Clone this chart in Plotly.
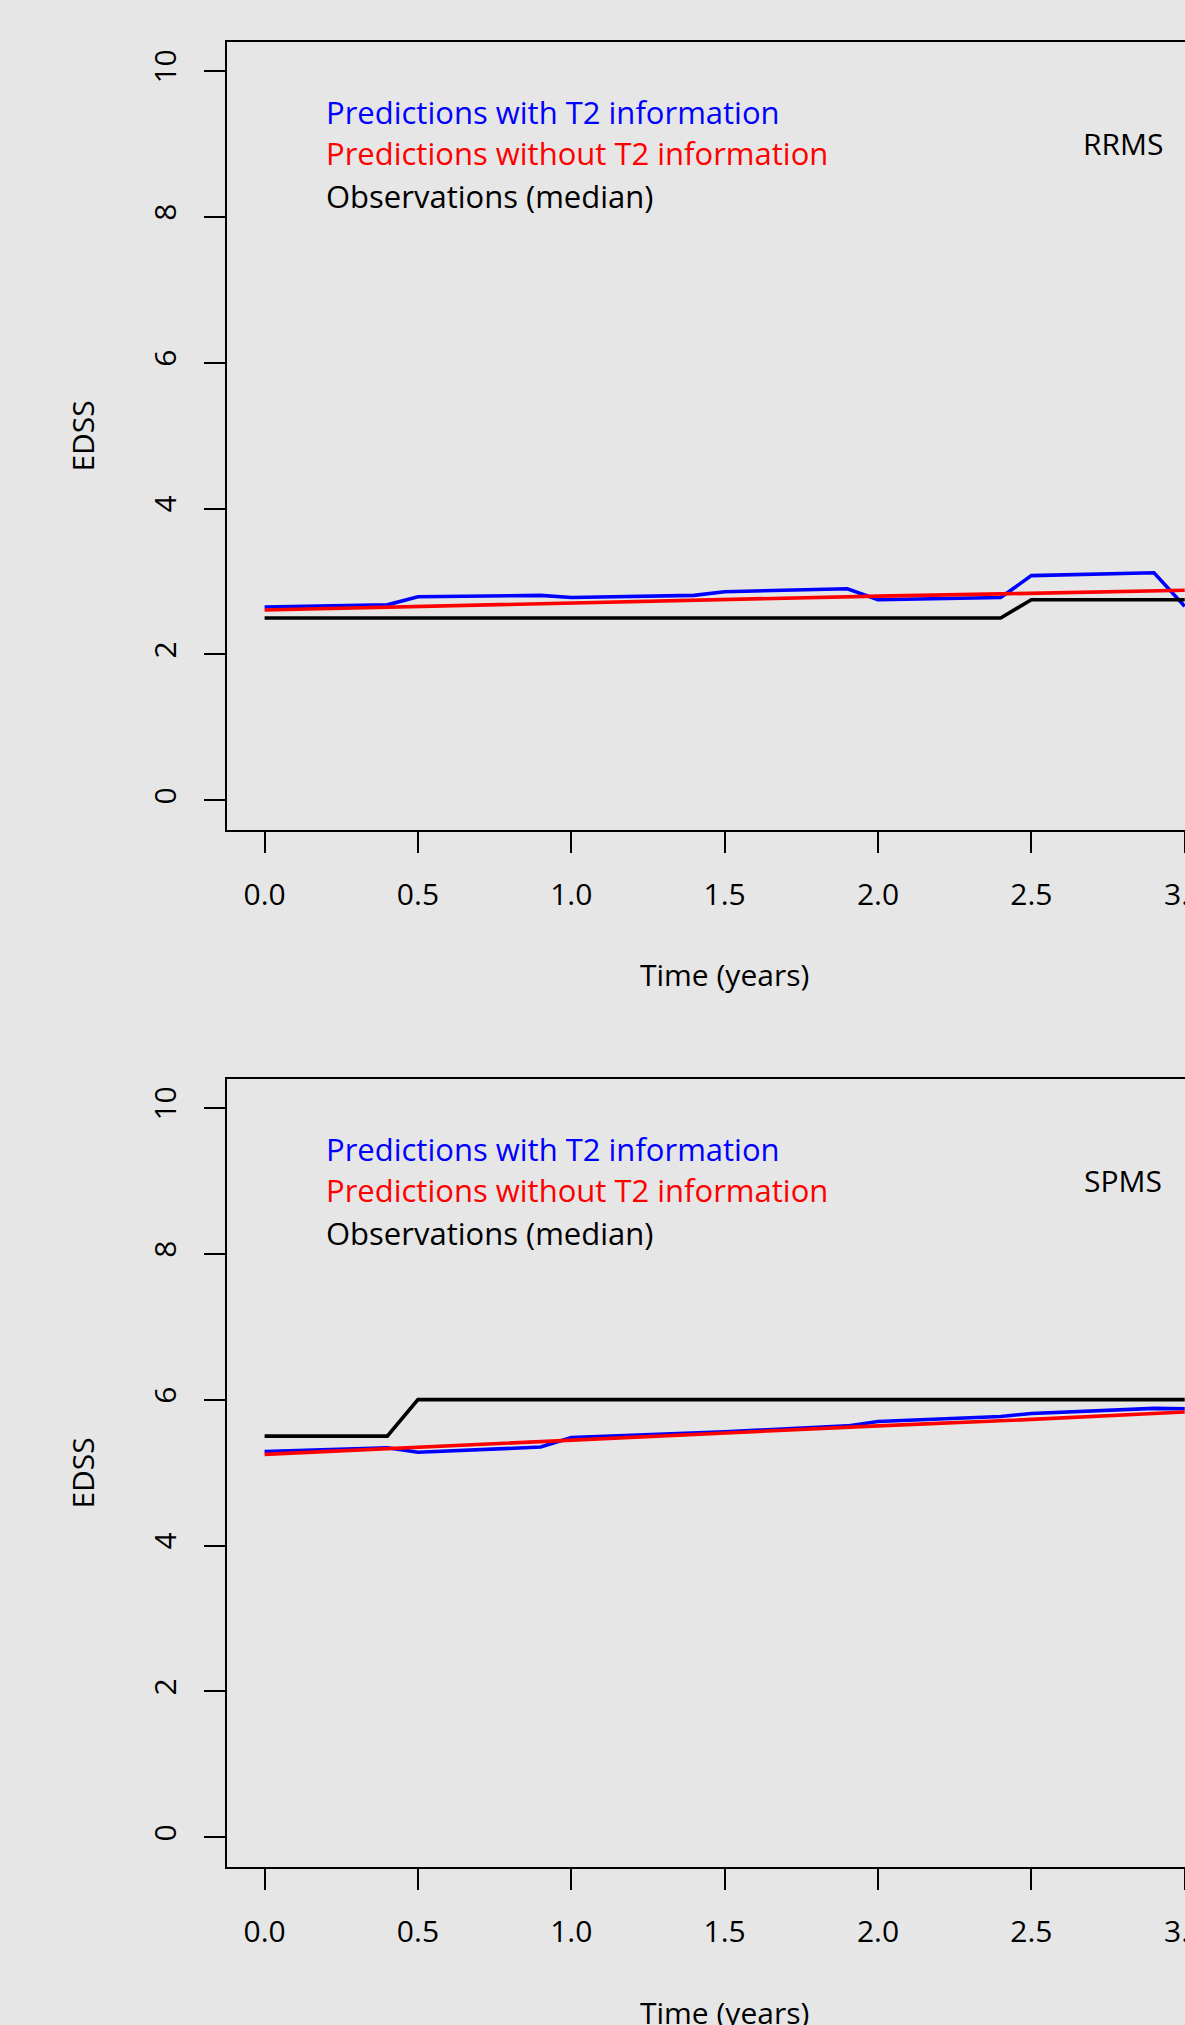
import plotly.graph_objects as go

# ---------------- data ----------------
time_years = [0.0, 0.4, 0.5, 0.9, 1.0, 1.4, 1.5, 1.9, 2.0, 2.4, 2.5, 2.9, 3.0]

rrms_with_t2 = [2.65, 2.68, 2.79, 2.81, 2.78, 2.81, 2.86, 2.90, 2.75, 2.78, 3.08, 3.12, 2.66]
rrms_without_t2 = [2.61, 2.65, 2.66, 2.69, 2.70, 2.74, 2.75, 2.79, 2.80, 2.83, 2.84, 2.87, 2.88]
rrms_observed = [2.5, 2.5, 2.5, 2.5, 2.5, 2.5, 2.5, 2.5, 2.5, 2.5, 2.75, 2.75, 2.75]

spms_with_t2 = [5.29, 5.34, 5.28, 5.35, 5.48, 5.54, 5.56, 5.64, 5.70, 5.77, 5.81, 5.88, 5.875]
spms_without_t2 = [5.25, 5.33, 5.35, 5.42, 5.44, 5.52, 5.54, 5.62, 5.64, 5.71, 5.73, 5.81, 5.83]
spms_observed = [5.5, 5.5, 6.0, 6.0, 6.0, 6.0, 6.0, 6.0, 6.0, 6.0, 6.0, 6.0, 6.0]

x_ticks = [0.0, 0.5, 1.0, 1.5, 2.0, 2.5, 3.0]
y_ticks = [0, 2, 4, 6, 8, 10]

legend_labels = ["Predictions with T2 information",
                 "Predictions without T2 information",
                 "Observations (median)"]
panel_labels = ["RRMS", "SPMS"]
x_title = "Time (years)"
y_title = "EDSS"

# ---------------- styling ----------------
W, H = 1185, 2025
BG = "#E6E6E6"
FONT = "Open Sans"
FS = 30
colors = ["#0000FF", "#FF0000", "#000000"]

fig = go.Figure()

panels = [
    dict(xa="x", ya="y", series=[rrms_with_t2, rrms_without_t2, rrms_observed],
         top=41.7, bottom=829.5, label=panel_labels[0]),
    dict(xa="x2", ya="y2", series=[spms_with_t2, spms_without_t2, spms_observed],
         top=1078.7, bottom=1866.5, label=panel_labels[1]),
]

annotations = []
for i, p in enumerate(panels):
    for s, c in zip(p["series"], colors):
        fig.add_trace(go.Scatter(x=time_years, y=s, mode="lines",
                                 line=dict(color=c, width=3.6),
                                 xaxis=p["xa"], yaxis=p["ya"],
                                 showlegend=False, hoverinfo="skip"))
    sfx = "" if i == 0 else "2"
    dom = [1 - p["bottom"] / H, 1 - p["top"] / H]
    axis_common = dict(showline=True, linecolor="black", linewidth=2,
                       ticks="outside", ticklen=21, tickwidth=2, tickcolor="black",
                       tickfont=dict(family=FONT, size=FS, color="black"),
                       showgrid=False, zeroline=False, automargin=False)
    fig.update_layout(**{
        "xaxis" + sfx: dict(domain=[227 / W, 1.0], range=[-0.1226, 3.001],
                            tickvals=x_ticks, tickformat=".1f", mirror=True,
                            anchor="y" + sfx, ticklabelstandoff=16, **axis_common),
        "yaxis" + sfx: dict(domain=dom, range=[-0.4, 10.4], tickvals=y_ticks,
                            tickangle=-90, anchor="x" + sfx, mirror=False,
                            ticklabelstandoff=16, **axis_common),
    })
    # the right-most tick label, cut by the page edge as in the reference
    annotations.append(dict(x=3.0, y=-0.4, xref=p["xa"], yref=p["ya"], text="3.0",
                            showarrow=False, xanchor="center", yanchor="top",
                            yshift=-41, font=dict(family=FONT, size=FS, color="black")))
    # legend text (no symbols, as in the reference)
    for lab, c, yy in zip(legend_labels, colors, [9.43, 8.87, 8.29]):
        annotations.append(dict(x=0.195, y=yy, xref=p["xa"], yref=p["ya"], text=lab,
                                showarrow=False, xanchor="left", yanchor="middle",
                                font=dict(family=FONT, size=31, color=c)))
    annotations.append(dict(x=2.8, y=9.0, xref=p["xa"], yref=p["ya"], text=p["label"],
                            showarrow=False, xanchor="center", yanchor="middle",
                            font=dict(family=FONT, size=FS, color="black")))
    # axis titles
    mid = (p["top"] + p["bottom"]) / 2
    annotations.append(dict(x=83 / W, y=1 - mid / H, xref="paper", yref="paper",
                            text=y_title, textangle=-90, showarrow=False,
                            xanchor="center", yanchor="middle",
                            font=dict(family=FONT, size=FS, color="black")))
    annotations.append(dict(x=724 / W, y=1 - (p["bottom"] + 145.5) / H, xref="paper",
                            yref="paper", text=x_title, showarrow=False,
                            xanchor="center", yanchor="middle",
                            font=dict(family=FONT, size=FS, color="black")))

fig.update_layout(width=W, height=H, margin=dict(l=0, r=0, t=0, b=0, pad=0),
                  paper_bgcolor=BG, plot_bgcolor=BG, showlegend=False,
                  annotations=annotations, template="none")

fig.write_html("out.html", config={"displayModeBar": False},
               post_script="document.body.style.margin='0';document.body.style.overflow='hidden';")
